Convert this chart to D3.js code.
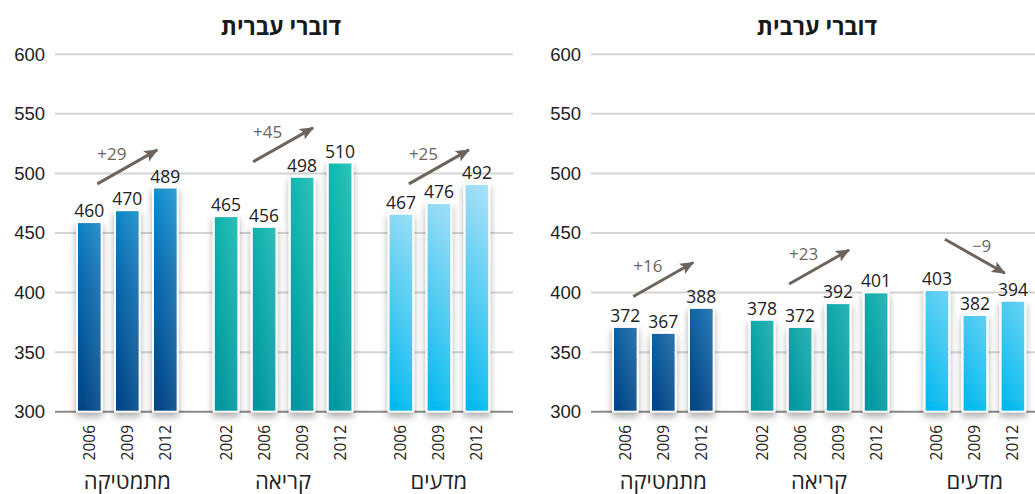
<!DOCTYPE html>
<html>
<head>
<meta charset="utf-8">
<script src="https://cdn.jsdelivr.net/npm/d3@7"></script>
<style>
	body { margin: 0; background: #fff; }
	svg { display: block; font-family: "Open Sans", "DejaVu Sans", sans-serif; }
</style>
</head>
<body>
<svg width="1035" height="494"></svg>
<script>
// Data
const subjects = ["מתמטיקה", "קריאה", "מדעים"];
const subjectYears = [["2006", "2009", "2012"], ["2002", "2006", "2009", "2012"], ["2006", "2009", "2012"]];
const hebrewScores = [[460, 470, 489], [465, 456, 498, 510], [467, 476, 492]];
const arabicScores = [[372, 367, 388], [378, 372, 392, 401], [403, 382, 394]];
const hebrewArrowLevel = [505.5, 524, 505.5];
const arabicArrowLevel = [411, 421.5, 430.5];
const yTicks = [300, 350, 400, 450, 500, 550, 600];
const panelTitles = ["דוברי עברית", "דוברי ערבית"];

const svg = d3.select("svg");
const defs = svg.append("defs");
const arrowColor = "#6e645b";

// gradients (one per subject)
const gradStops = [
	[["0%", "#0a9ad8"], ["45%", "#0066ad"], ["100%", "#004586"]],
	[["0%", "#00b8ab"], ["100%", "#0097a0"]],
	[["0%", "#b0e2f7"], ["45%", "#5ccdf2"], ["100%", "#00b9ee"]]
];
gradStops.forEach(function(stops, i){
	let g = defs.append("linearGradient")
		.attr("id", `grad_${i}`)
		.attr("gradientUnits", "userSpaceOnUse")
		.attr("x1", 0).attr("y1", 150).attr("x2", 0).attr("y2", 412);
	stops.forEach(function(s){
		g.append("stop").attr("offset", s[0]).attr("stop-color", s[1]);
	});
});
// glare on each bar, top right
const glare = defs.append("linearGradient")
	.attr("id", "glare")
	.attr("x1", 1).attr("y1", 0).attr("x2", 0).attr("y2", 0.6);
glare.append("stop").attr("offset", "0%").attr("stop-color", "#fff").attr("stop-opacity", 0.18);
glare.append("stop").attr("offset", "100%").attr("stop-color", "#fff").attr("stop-opacity", 0);

const shadow = defs.append("filter").attr("id", "shadow")
	.attr("x", "-50%").attr("y", "-20%").attr("width", "200%").attr("height", "140%");
shadow.append("feDropShadow")
	.attr("dx", 0).attr("dy", 4).attr("stdDeviation", 3.5)
	.attr("flood-color", "#000").attr("flood-opacity", 0.32);

const head = defs.append("marker").attr("id", "head")
	.attr("markerUnits", "userSpaceOnUse")
	.attr("viewBox", "0 0 14 12")
	.attr("refX", 13).attr("refY", 6)
	.attr("markerWidth", 14).attr("markerHeight", 12)
	.attr("orient", "auto");
head.append("path").attr("d", "M0,0 L14,6 L0,12 L3,6 Z").attr("fill", arrowColor);

// Scales
const y = d3.scaleLinear().domain([300, 600]).range([411.7, 54.3]);
const gap = 0.6;
const x = d3.scaleLinear().domain([0, 1]).range([76, 114]);

/**
 * Draw one panel (title, grid, bars, labels, arrows)
 */
function draw_panel(offset, title, scores, arrowLevel){
	const g = svg.append("g").attr("transform", `translate(${offset},0)`);

	g.append("text")
		.attr("x", 281).attr("y", 35)
		.attr("text-anchor", "middle")
		.attr("font-size", 23).attr("font-weight", "bold")
		.attr("fill", "#1a1a1a")
		.text(title);

	const axis = d3.axisLeft(y).tickValues(yTicks).tickSize(0).tickPadding(10);
	const ax = g.append("g").attr("transform", "translate(55,0)").call(axis);
	ax.select(".domain").remove();
	ax.selectAll("text").attr("font-size", 18.5).attr("fill", "#222").attr("font-family", null).attr("x", -10);

	g.selectAll("line.grid")
		.data(yTicks)
		.enter()
		.append("line")
		.attr("class", "grid")
		.attr("x1", 55).attr("x2", 513)
		.attr("y1", d => y(d)).attr("y2", d => y(d))
		.attr("stroke", d => d === 300 ? "#8a8a8a" : "#d4d4d4")
		.attr("stroke-width", 2);

	// flatten bars with slot position
	let bars = [], slot = 0;
	scores.forEach(function(vals, gi){
		vals.forEach(function(v, j){
			bars.push({group: gi, year: subjectYears[gi][j], value: v, slot: slot + gi * gap});
			slot++;
		});
	});
	const bw = x(0.7) - x(0);

	const barG = g.append("g").attr("filter", "url(#shadow)");
	barG.selectAll("rect.bar")
		.data(bars)
		.enter()
		.append("rect")
		.attr("class", "bar")
		.attr("x", d => x(d.slot) + 1)
		.attr("y", d => y(d.value) + 1)
		.attr("width", bw - 2)
		.attr("height", d => y(300) - y(d.value) - 1)
		.attr("fill", d => `url(#grad_${d.group})`)
		.attr("stroke", "#fff")
		.attr("stroke-width", 2);
	g.selectAll("rect.glare")
		.data(bars)
		.enter()
		.append("rect")
		.attr("x", d => x(d.slot) + 2)
		.attr("y", d => y(d.value) + 2)
		.attr("width", bw - 4)
		.attr("height", d => y(300) - y(d.value) - 3)
		.attr("fill", "url(#glare)");

	g.selectAll("text.val")
		.data(bars)
		.enter()
		.append("text")
		.attr("x", d => x(d.slot) + bw / 2)
		.attr("y", d => y(d.value) - 4)
		.attr("text-anchor", "middle")
		.attr("font-size", 17.5)
		.attr("fill", "#222")
		.text(d => d.value);

	g.selectAll("text.year")
		.data(bars)
		.enter()
		.append("text")
		.attr("transform", d => `translate(${x(d.slot) + bw / 2},425) rotate(-90)`)
		.attr("dy", "0.35em")
		.attr("text-anchor", "end")
		.attr("font-size", 15.5)
		.attr("fill", "#222")
		.text(d => d.year);

	// group centres
	const centers = subjects.map(function(s, gi){
		let gb = bars.filter(b => b.group === gi);
		return (x(gb[0].slot) + x(gb[gb.length - 1].slot) + bw) / 2;
	});

	g.selectAll("text.cat")
		.data(subjects)
		.enter()
		.append("text")
		.attr("x", (d, i) => centers[i])
		.attr("y", 489)
		.attr("text-anchor", "middle")
		.attr("font-size", 22)
		.attr("fill", "#222")
		.text(d => d);

	// change arrows
	const fmt = d3.format("+");
	scores.forEach(function(vals, gi){
		let change = vals[vals.length - 1] - vals[0];
		let cx = centers[gi], cy = y(arrowLevel[gi]);
		let dir = change >= 0 ? -1 : 1;
		g.append("line")
			.attr("x1", cx - 30).attr("y1", cy - dir * 17)
			.attr("x2", cx + 30).attr("y2", cy + dir * 17)
			.attr("stroke", arrowColor)
			.attr("stroke-width", 3)
			.attr("marker-end", "url(#head)");
		g.append("text")
			.attr("x", change >= 0 ? cx - 30 : cx - 3)
			.attr("y", change >= 0 ? cy - 7 : cy - 4)
			.attr("font-size", 17)
			.attr("fill", arrowColor)
			.text(fmt(change));
	});
}

draw_panel(0, panelTitles[0], hebrewScores, hebrewArrowLevel);
draw_panel(536, panelTitles[1], arabicScores, arabicArrowLevel);
</script>
</body>
</html>
